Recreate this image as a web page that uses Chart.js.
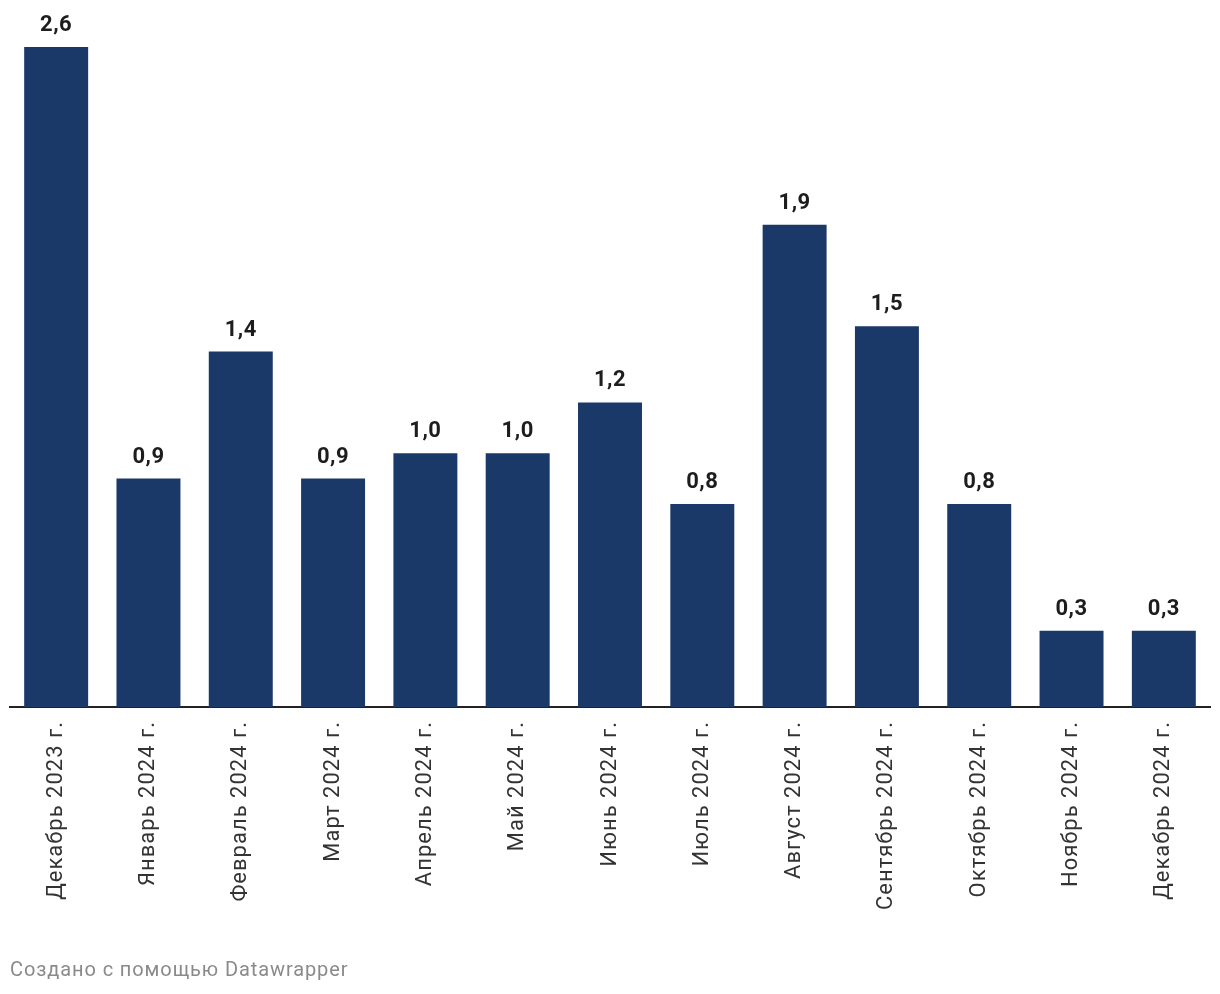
<!DOCTYPE html>
<html>
<head>
<meta charset="utf-8">
<script src="https://cdn.jsdelivr.net/npm/chart.js@4"></script>
<style>
  html, body { margin: 0; padding: 0; background: #fff; }
  #wrap { position: relative; width: 1220px; height: 994px; }
  #footer { position: absolute; left: 10px; top: 957px; font-family: Roboto, sans-serif; font-size: 20px; letter-spacing: 0.9px; color: #8a8a8a; }
</style>
</head>
<body>
<div id="wrap">
  <canvas id="c" width="1220" height="994"></canvas>
  <div id="footer">Создано с помощью Datawrapper</div>
</div>
<script>
const categories = ["Декабрь 2023 г.", "Январь 2024 г.", "Февраль 2024 г.", "Март 2024 г.", "Апрель 2024 г.", "Май 2024 г.", "Июнь 2024 г.", "Июль 2024 г.", "Август 2024 г.", "Сентябрь 2024 г.", "Октябрь 2024 г.", "Ноябрь 2024 г.", "Декабрь 2024 г."];
const values = [2.6, 0.9, 1.4, 0.9, 1.0, 1.0, 1.2, 0.8, 1.9, 1.5, 0.8, 0.3, 0.3];

const spacing = {
  id: 'spacing',
  beforeDraw(chart) { chart.ctx.letterSpacing = '1px'; }
};

const valueLabels = {
  id: 'valueLabels',
  afterDatasetsDraw(chart) {
    const ctx = chart.ctx;
    const meta = chart.getDatasetMeta(0);
    ctx.save();
    ctx.letterSpacing = '0.5px';
    ctx.font = 'bold 22px Roboto, sans-serif';
    ctx.fillStyle = '#1d1d1d';
    ctx.textAlign = 'center';
    ctx.textBaseline = 'alphabetic';
    meta.data.forEach((bar, i) => {
      const txt = values[i].toFixed(1).replace('.', ',');
      ctx.fillText(txt, bar.x, bar.y - 16);
    });
    ctx.restore();
  }
};

new Chart(document.getElementById('c'), {
  type: 'bar',
  data: {
    labels: categories,
    datasets: [{
      data: values,
      backgroundColor: '#1a3968',
      barPercentage: 0.693,
      categoryPercentage: 1.0
    }]
  },
  options: {
    responsive: false,
    animation: false,
    devicePixelRatio: 1,
    layout: { padding: { top: 47, left: 10, right: 10, bottom: 0 } },
    plugins: { legend: { display: false }, tooltip: { enabled: false } },
    scales: {
      x: {
        grid: { display: false, drawTicks: false },
        border: { display: true, color: '#222', width: 2 },
        ticks: {
          minRotation: 90, maxRotation: 90, autoSkip: false,
          padding: 14,
          color: '#333',
          font: { family: 'Roboto, sans-serif', size: 22 }
        },
        afterFit(s) { s.height = 994 - 707; }
      },
      y: {
        display: false,
        min: 0, max: 2.6
      }
    }
  },
  plugins: [spacing, valueLabels]
});
</script>
</body>
</html>
